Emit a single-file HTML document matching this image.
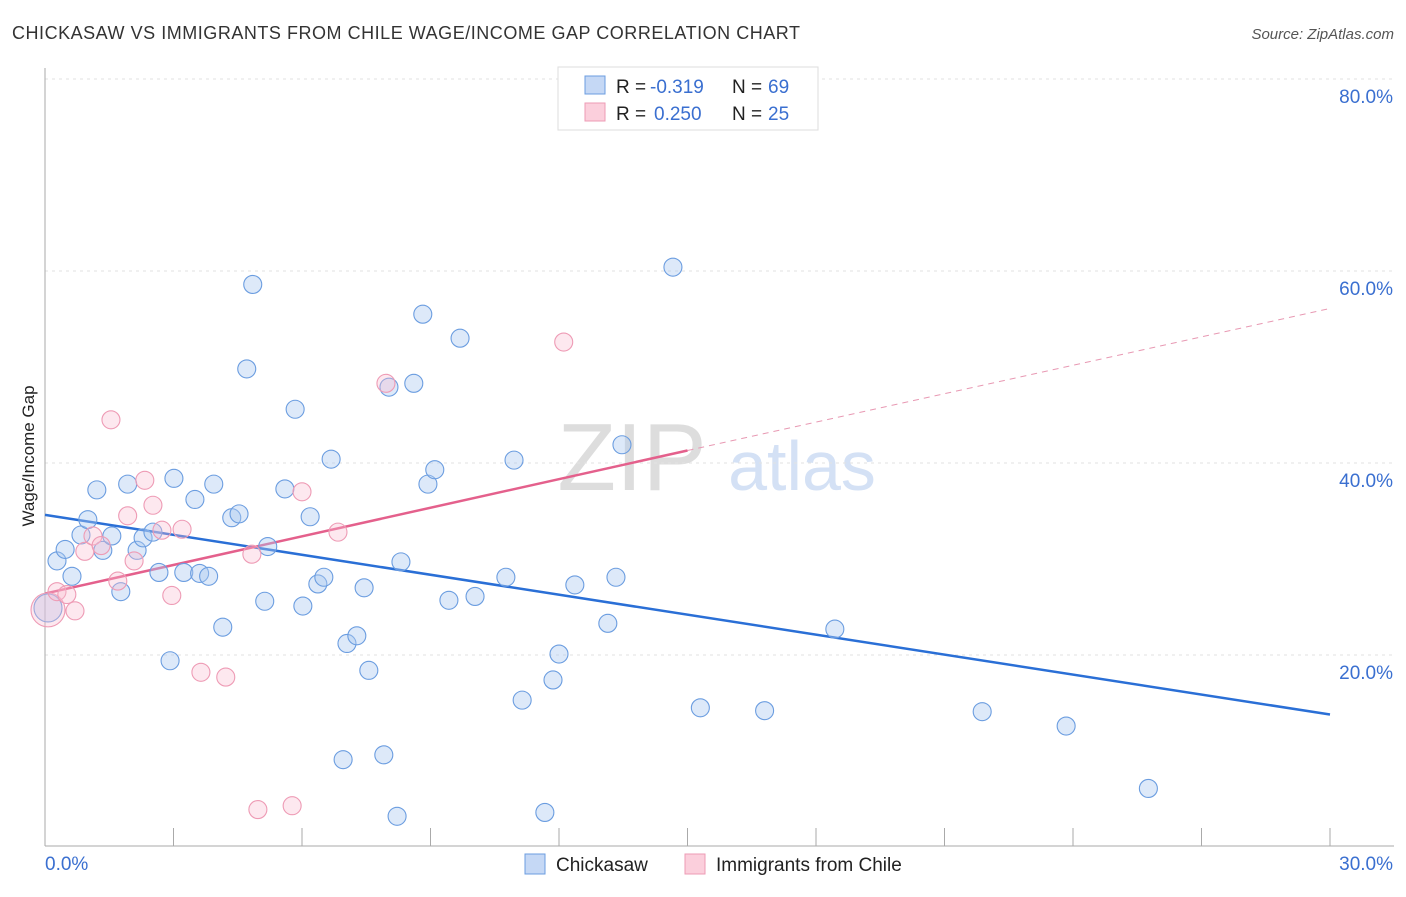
<!DOCTYPE html>
<html><head><meta charset="utf-8"><style>
body{margin:0;background:#fff;font-family:"Liberation Sans",sans-serif}
svg text{font-family:"Liberation Sans",sans-serif}
</style></head><body>
<svg id="c" width="1406" height="892">
<text x="12" y="39" font-size="18" fill="#333" textLength="788">CHICKASAW VS IMMIGRANTS FROM CHILE WAGE/INCOME GAP CORRELATION CHART</text>
<text x="1394" y="39" font-size="15" fill="#555" font-style="italic" text-anchor="end">Source: ZipAtlas.com</text>
<text x="632" y="490" font-size="96" fill="#ddd" font-family="Liberation Serif" text-anchor="middle">ZIP</text>
<text x="802" y="490" font-size="70" fill="#d4e1f5" text-anchor="middle">atlas</text>
<g id="grid"></g><g id="ax"></g><g id="lines"></g><g id="pts"></g>
<text transform="translate(34,456) rotate(-90)" font-size="17" fill="#222" text-anchor="middle">Wage/Income Gap</text>
<g>
<rect x="558" y="67" width="260" height="63" fill="#fff" stroke="#ddd"/>
<rect x="585" y="76" width="20" height="18" fill="#c5d8f5" stroke="#6b9de0"/>
<rect x="585" y="103" width="20" height="18" fill="#fbcfdc" stroke="#ee9bb5"/>
<text x="616" y="93" font-size="19" fill="#222">R =</text>
<text x="650" y="93" font-size="19" fill="#3a6fd0">-0.319</text>
<text x="732" y="93" font-size="19" fill="#222">N =</text>
<text x="768" y="93" font-size="19" fill="#3a6fd0">69</text>
<text x="616" y="120" font-size="19" fill="#222">R =</text>
<text x="654" y="120" font-size="19" fill="#3a6fd0">0.250</text>
<text x="732" y="120" font-size="19" fill="#222">N =</text>
<text x="768" y="120" font-size="19" fill="#3a6fd0">25</text>
</g>
<g>
<rect x="525" y="854" width="20" height="20" fill="#c5d8f5" stroke="#6b9de0"/>
<text x="556" y="871" font-size="19" fill="#222">Chickasaw</text>
<rect x="685" y="854" width="20" height="20" fill="#fbcfdc" stroke="#ee9bb5"/>
<text x="716" y="871" font-size="19" fill="#222">Immigrants from Chile</text>
</g>
</svg>
<script>
const yTicks=[20,40,60,80];
const yTickLabels=["20.0%","40.0%","60.0%","80.0%"];
const blueX=[0.07,0.28,0.47,0.63,0.84,1.0,1.21,1.35,1.56,1.77,1.93,2.15,2.29,2.52,2.66,2.92,3.01,3.24,3.50,3.61,3.82,3.94,4.15,4.36,4.53,4.71,4.85,5.13,5.20,5.60,5.84,6.02,6.19,6.37,6.51,6.68,6.96,7.05,7.28,7.45,7.56,7.91,8.03,8.22,8.31,8.61,8.82,8.94,9.10,9.43,9.69,10.04,10.76,10.95,11.14,11.86,12.0,11.67,12.37,13.14,13.33,13.47,14.66,15.30,16.80,18.44,21.88,23.84,25.76];
const blueY=[24.9,29.8,31.0,28.2,32.5,34.1,37.2,30.9,32.4,26.6,37.8,30.9,32.2,32.8,28.6,19.4,38.4,28.6,36.2,28.5,28.2,37.8,22.9,34.3,34.7,49.8,58.6,25.6,31.3,37.3,45.6,25.1,34.4,27.4,28.1,40.4,9.1,21.2,22.0,27.0,18.4,9.6,47.9,3.2,29.7,48.3,55.5,37.8,39.3,25.7,53.0,26.1,28.1,40.3,15.3,17.4,20.1,3.6,27.3,23.3,28.1,41.9,60.4,14.5,14.2,22.7,14.1,12.6,6.1];
const pinkX=[0.07,0.28,0.51,0.70,0.93,1.12,1.31,1.54,1.70,1.93,2.08,2.33,2.52,2.73,2.96,3.20,3.64,4.22,4.83,4.97,5.77,6.00,6.84,7.96,12.11];
const pinkY=[24.7,26.6,26.3,24.6,30.8,32.4,31.4,44.5,27.7,34.5,29.8,38.2,35.6,33.0,26.2,33.1,18.2,17.7,30.5,3.9,4.3,37.0,32.8,48.3,52.6];
const blueLine=[[0,34.6],[30,13.8]];
const pinkLine=[[0,26.4],[15,41.3],[30,56.1]];
const NS="http://www.w3.org/2000/svg";
const X=v=>45+v/30*1285, Y=v=>847-v*9.6;
function mk(t,a,p){const e=document.createElementNS(NS,t);for(const k in a)e.setAttribute(k,a[k]);p.appendChild(e);return e;}
const grid=document.getElementById('grid'),ax=document.getElementById('ax'),ln=document.getElementById('lines'),pts=document.getElementById('pts');
yTicks.forEach((t,i)=>{
 const g=mk('line',{x1:45,x2:1394,y1:Y(t),y2:Y(t),stroke:'#e2e2e2','stroke-dasharray':'3,4'},grid);
 
 
 const tx=mk('text',{x:1393,y:Y(t)+24,'font-size':19,fill:'#3a6fd0','text-anchor':'end'},ax);
 tx.textContent=yTickLabels[i];
 
 
});
mk('line',{x1:45,x2:45,y1:68,y2:846,stroke:'#aaa'},ax);
mk('line',{x1:45,x2:1394,y1:846,y2:846,stroke:'#aaa'},ax);
for(let i=1;i<=10;i++){const l=mk('line',{x1:X(i*3),x2:X(i*3),y1:828,y2:846,stroke:'#aaa'},ax);}
let t1=mk('text',{x:45,y:870,'font-size':19,fill:'#3a6fd0'},ax);t1.textContent='0.0%';


let t2=mk('text',{x:1393,y:870,'font-size':19,fill:'#3a6fd0','text-anchor':'end'},ax);t2.textContent='30.0%';


blueX.forEach((x,i)=>{const c=mk('circle',{cx:X(x),cy:Y(blueY[i]),r:i==0?14:9,fill:'rgba(170,200,240,0.4)',stroke:'#6b9de0','stroke-width':1.1},pts);
 
 });
pinkX.forEach((x,i)=>{const c=mk('circle',{cx:X(x),cy:Y(pinkY[i]),r:i==0?17:9,fill:'rgba(248,190,210,0.35)',stroke:'#ee9bb5','stroke-width':1.1},pts);
 
 });
let b=mk('line',{x1:X(blueLine[0][0]),y1:Y(blueLine[0][1]),x2:X(blueLine[1][0]),y2:Y(blueLine[1][1]),stroke:'#2a6fd6','stroke-width':2.5},ln);


let p=mk('line',{x1:X(pinkLine[0][0]),y1:Y(pinkLine[0][1]),x2:X(pinkLine[1][0]),y2:Y(pinkLine[1][1]),stroke:'#e4608c','stroke-width':2.5},ln);


let pd=mk('line',{x1:X(pinkLine[1][0]),y1:Y(pinkLine[1][1]),x2:X(pinkLine[2][0]),y2:Y(pinkLine[2][1]),stroke:'#e899b3','stroke-width':1,'stroke-dasharray':'6,5'},ln);


</script>
</body></html>
